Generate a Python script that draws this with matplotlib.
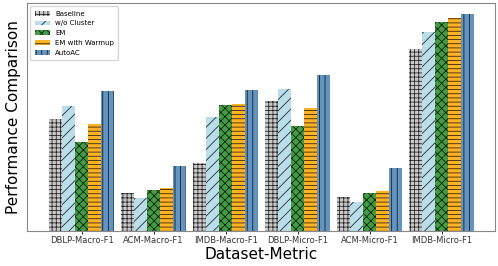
import numpy as np
import matplotlib
matplotlib.use('Agg')
from matplotlib import pyplot as plt

plt.rcParams['hatch.linewidth'] = 0.55

# categories and methods
categories = ['DBLP-Macro-F1', 'ACM-Macro-F1', 'IMDB-Macro-F1',
              'DBLP-Micro-F1', 'ACM-Micro-F1', 'IMDB-Micro-F1']
methods = ['Baseline', 'w/o Cluster', 'EM', 'EM with Warmup', 'AutoAC']

# relative scores (no y scale given)
baseline = [112, 38, 68, 130, 34, 182]
wo_cluster = [125, 33, 114, 142, 29, 199]
em = [89, 41, 126, 105, 38, 209]
em_warmup = [107, 43, 127, 123, 40, 213]
autoac = [140, 65, 141, 156, 63, 217]

series = [baseline, wo_cluster, em, em_warmup, autoac]
colors = ['silver', 'lightblue', 'forestgreen', 'orange', 'steelblue']
hatches = ['++++', '///', 'xxxx', '----', '|||']

fig = plt.figure(figsize=(4.98, 2.66), dpi=100)
ax = fig.add_axes([0.054, 0.132, 0.94, 0.857])

x = np.arange(len(categories))
width = 0.18
for i, vals in enumerate(series):
    ax.bar(x + (i - 2) * width, vals, width, color=colors[i], hatch=hatches[i],
           edgecolor='black', linewidth=0, alpha=0.85, label=methods[i])

ax.set_xticks(x)
ax.set_xticklabels(categories, fontsize=6, color='#333333')
ax.tick_params(axis='x', length=2, pad=2, width=0.6)
ax.set_yticks([])
ax.set_xlim(-0.76, 5.74)
ax.set_ylim(0, 228)
ax.set_xlabel('Dataset-Metric', fontsize=11, labelpad=1)
ax.set_ylabel('Performance Comparison', fontsize=11, labelpad=4)
for s in ax.spines.values():
    s.set_color('#888888')
    s.set_linewidth(0.8)

ax.legend(loc='upper left', fontsize=5, frameon=True, handlelength=2.2,
          labelspacing=0.55, borderpad=0.6, bbox_to_anchor=(0.0, 1.0))

plt.savefig('out.png', dpi=100)
